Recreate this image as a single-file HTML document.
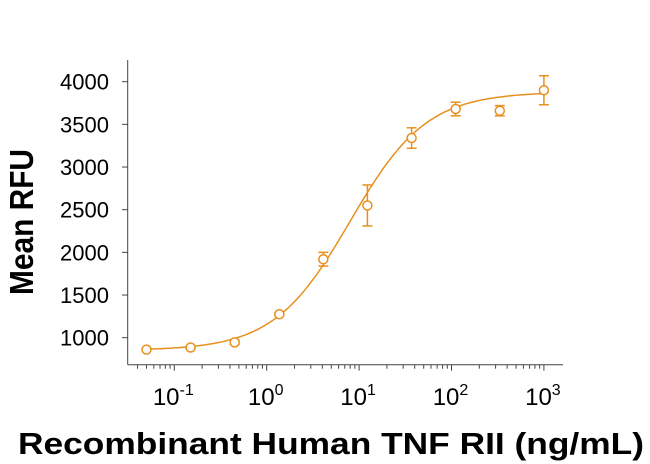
<!DOCTYPE html>
<html><head><meta charset="utf-8"><style>
body{margin:0;background:#fff}
svg{display:block;font-family:"Liberation Sans",Arial,sans-serif}
</style></head><body>
<svg id="chart" width="650" height="464" viewBox="0 0 650 464">
<g id="axes"></g><g id="curve"></g><g id="points"></g>
<text x="33" y="222" transform="rotate(-90 33 222)" text-anchor="middle" font-size="33" font-weight="bold" textLength="146" lengthAdjust="spacingAndGlyphs">Mean RFU</text>
<text x="331" y="454" text-anchor="middle" font-size="31" font-weight="bold" textLength="626" lengthAdjust="spacingAndGlyphs">Recombinant Human TNF RII (ng/mL)</text>
</svg>
<script>
const doses=[0.05,0.15,0.45,1.37,4.1,12.3,37,111,333,1000];
const rfu=[860,885,945,1275,1920,2550,3340,3680,3660,3900];
const errs=[10,12,25,15,80,240,120,80,60,170];
const yTicks=[1000,1500,2000,2500,3000,3500,4000];
const xDecades=[-1,0,1,2,3];
const fitParams=[850,3030,8,1.05]; // bottom, top-bottom, EC50, hill
const NS="http://www.w3.org/2000/svg",C="#E8901E";
function X(v){return 266.7+92.4*Math.log10(v);}
function Y(v){return 337.7-(v-1000)*0.08533;}
function mk(p,t,a){const e=document.createElementNS(NS,t);for(const k in a)e.setAttribute(k,a[k]);p.appendChild(e);return e;}
const ax=document.getElementById('axes');
let l=mk(ax,'line',{x1:127.7,y1:60,x2:127.7,y2:364.7,stroke:'#444','stroke-width':1});


l=mk(ax,'line',{x1:127.7,y1:364.7,x2:563,y2:364.7,stroke:'#444','stroke-width':1});


yTicks.forEach(v=>{
 mk(ax,'line',{x1:122,x2:127.7,y1:Y(v),y2:Y(v),stroke:'#444'});
 const t=mk(ax,'text',{x:109,y:Y(v)+8,'text-anchor':'end','font-size':22});
 t.textContent=v;
 
 
});
for(let d=-2;d<=3;d++){for(let m=1;m<10;m++){const x=X(m*Math.pow(10,d));if(x<132||x>560)continue;
 mk(ax,'line',{x1:x,x2:x,y1:364.7,y2:364.7+(m==1?6:4),stroke:'#444'});}}
xDecades.forEach(d=>{
 const t=mk(ax,'text',{x:X(Math.pow(10,d))-1,y:405,'text-anchor':'middle','font-size':24});
 t.textContent='10';
 const s=mk(t,'tspan',{dy:-10,'font-size':16});s.textContent=String(d);
 
 
});
const [b,r,ec,h]=fitParams;let dp='';
for(let i=0;i<=200;i++){const lx=Math.log10(0.05)+i*(3-Math.log10(0.05))/200,v=Math.pow(10,lx);
 const y=b+r/(1+Math.pow(ec/v,h));dp+=(i?'L':'M')+X(v).toFixed(1)+' '+Y(y).toFixed(1);}
const cp=mk(document.getElementById('curve'),'path',{d:dp,fill:'none',stroke:C,'stroke-width':1.5});


const pg=document.getElementById('points');
doses.forEach((d,i)=>{
 const g=mk(pg,'g',{stroke:C,'stroke-width':1.5,fill:'none'});
 
 
 const x=X(d),y=Y(rfu[i]),y1=Y(rfu[i]+errs[i]),y2=Y(rfu[i]-errs[i]);
 mk(g,'line',{x1:x,x2:x,y1:y1,y2:y2});
 mk(g,'line',{x1:x-5,x2:x+5,y1:y1,y2:y1});
 mk(g,'line',{x1:x-5,x2:x+5,y1:y2,y2:y2});
 mk(g,'circle',{cx:x,cy:y,r:4.5,fill:'#fff'});
});
</script>
</body></html>
